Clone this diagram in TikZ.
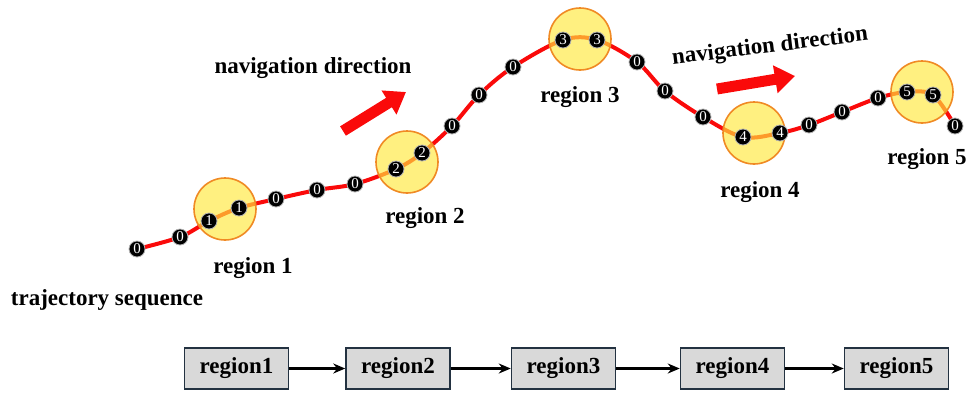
\documentclass[tikz,border=0pt]{standalone}
\usepackage{fontspec}
\setmainfont{Liberation Serif}
\usetikzlibrary{arrows.meta}
\definecolor{regfill}{RGB}{255,232,60}
\definecolor{regborder}{RGB}{240,138,36}
\definecolor{boxfill}{RGB}{217,217,217}
\definecolor{boxborder}{RGB}{35,50,65}
\definecolor{trajred}{RGB}{250,10,10}
\begin{document}
\begin{tikzpicture}[x=1pt,y=-1pt,
  tp/.style={circle,fill=black,draw=gray!60,line width=0.8pt,inner sep=0pt,minimum size=16pt,text=white,font=\fontsize{15}{15}\selectfont},
  reg/.style={circle,draw=regborder,line width=1.6pt,fill=regfill,fill opacity=0.65,minimum size=62pt,inner sep=0pt},
  lab/.style={font=\fontsize{23}{27}\selectfont\bfseries,inner sep=0pt},
  regbox/.style={draw=boxborder,line width=1.5pt,fill=boxfill,minimum width=104pt,minimum height=41pt,inner sep=0pt,font=\fontsize{23}{27}\selectfont\bfseries},
  flow/.style={-{Stealth[length=12pt,width=10pt]},line width=2.2pt,black},
  bigarrow/.style={draw=trajred,line width=11pt,-{Triangle[length=20pt,width=27pt]}},
  traj/.style={trajred,line width=4pt}
]
\useasboundingbox (0,0) rectangle (972,392);
% trajectory points
\coordinate (p1) at (137,249);
\coordinate (p2) at (180,237);
\coordinate (p3) at (209,221);
\coordinate (p4) at (239,208);
\coordinate (p5) at (276,199);
\coordinate (p6) at (317,190);
\coordinate (p7) at (355,184);
\coordinate (p8) at (396,169);
\coordinate (p9) at (422,153);
\coordinate (p10) at (452,126);
\coordinate (p11) at (479,95);
\coordinate (p12) at (513,67);
\coordinate (p13) at (563,40);
\coordinate (p14) at (597,40);
\coordinate (p15) at (637,62);
\coordinate (p16) at (665,91);
\coordinate (p17) at (703,117);
\coordinate (p18) at (743,137);
\coordinate (p19) at (780,133);
\coordinate (p20) at (809,125);
\coordinate (p21) at (842,112);
\coordinate (p22) at (878,98);
\coordinate (p23) at (907,92);
\coordinate (p24) at (933,95);
\coordinate (p25) at (955,126);

\draw[traj] plot[smooth,tension=0.55] coordinates {(p1) (p2) (p3) (p4) (p5) (p6) (p7) (p8) (p9) (p10) (p11) (p12) (p13) (p14) (p15) (p16) (p17) (p18) (p19) (p20) (p21) (p22) (p23) (p24) (p25)};

% region circles
\node[reg] (c1) at (225,209) {};
\node[reg] (c2) at (407,162) {};
\node[reg] (c3) at (580,39) {};
\node[reg] (c4) at (754,133) {};
\node[reg] (c5) at (922,92) {};

% trajectory nodes
\foreach \i/\v in {1/0,2/0,3/1,4/1,5/0,6/0,7/0,8/2,9/2,10/0,11/0,12/0,13/3,14/3,15/0,16/0,17/0,18/4,19/4,20/0,21/0,22/0,23/5,24/5,25/0}
  \node[tp] (t\i) at (p\i) {\v};

% labels
\node[lab] (l1) at (253,268) {region 1};
\node[lab] (l2) at (425,218) {region 2};
\node[lab] (l3) at (580,97) {region 3};
\node[lab] (l4) at (760,192) {region 4};
\node[lab] (l5) at (927,159) {region 5};
\node[lab] (ts) at (107,300) {trajectory sequence};
\node[lab] (nd1) at (313,68) {navigation direction};
\node[lab,rotate=7] (nd2) at (770,47) {navigation direction};

% big arrows
\coordinate (a1s) at (343,131);
\coordinate (a1e) at (406,92);
\coordinate (a2s) at (717,89);
\coordinate (a2e) at (795,76);
\draw[bigarrow] (a1s) -- (a1e);
\draw[bigarrow] (a2s) -- (a2e);

% bottom boxes
\node[regbox] (b1) at (236.5,368.5) {region1};
\node[regbox] (b2) at (398,368.5) {region2};
\node[regbox] (b3) at (563.5,368.5) {region3};
\node[regbox] (b4) at (732.5,368.5) {region4};
\node[regbox] (b5) at (896.5,368.5) {region5};
\draw[flow] (b1) -- (b2);
\draw[flow] (b2) -- (b3);
\draw[flow] (b3) -- (b4);
\draw[flow] (b4) -- (b5);
\end{tikzpicture}
\end{document}
